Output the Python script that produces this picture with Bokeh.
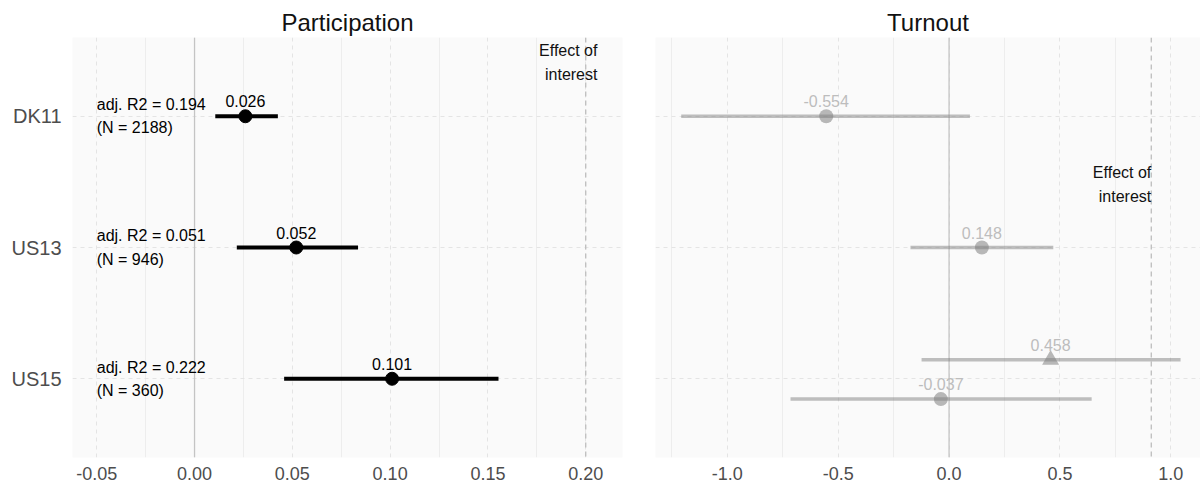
from bokeh.plotting import figure
from bokeh.layouts import row
from bokeh.models import Range1d, FixedTicker, Span, ColumnDataSource, PrintfTickFormatter
from bokeh.embed import file_html
from bokeh.resources import INLINE
from bokeh.core.properties import value

# ---------------- data ----------------
countries = ["DK11", "US13", "US15"]

part_est = [0.026, 0.052, 0.101]
part_lo = [0.0106, 0.0216, 0.0458]
part_hi = [0.0426, 0.0836, 0.1554]
adj_r2 = [0.194, 0.051, 0.222]
n_obs = [2188, 946, 360]
part_effect = 0.2

turn_country = ["DK11", "US13", "US15", "US15"]
turn_est = [-0.554, 0.148, 0.458, -0.037]
turn_lo = [-1.208, -0.174, -0.124, -0.715]
turn_hi = [0.094, 0.470, 1.044, 0.643]
turn_marker = ["circle", "circle", "triangle", "circle"]
turn_dodge = [0.0, 0.0, 0.145, -0.155]
turn_effect = 0.912

part_ticks = [-0.05, 0.0, 0.05, 0.10, 0.15, 0.20]
part_minor = [-0.025, 0.025, 0.075, 0.125, 0.175]
turn_ticks = [-1.0, -0.5, 0.0, 0.5, 1.0]
turn_minor = [-1.25, -0.75, -0.25, 0.25, 0.75]

FONT = "Liberation Sans"
ypos = {c: len(countries) - i for i, c in enumerate(countries)}


def style(p, ticks, minor, fmt):
    p.background_fill_color = "#FAFAFA"
    p.border_fill_color = "white"
    p.outline_line_color = None
    p.title.text_font = FONT
    p.title.text_font_size = "24px"
    p.title.text_font_style = "normal"
    p.title.text_color = "#111111"
    p.title.align = "center"
    p.title.standoff = 4
    tk = FixedTicker(ticks=ticks, minor_ticks=minor)
    p.xaxis.ticker = tk
    p.xgrid.ticker = tk
    p.xaxis.formatter = PrintfTickFormatter(format=fmt)
    p.xaxis.axis_line_color = None
    p.xaxis.major_tick_line_color = None
    p.xaxis.minor_tick_line_color = None
    p.xaxis.major_tick_out = 0
    p.xaxis.major_tick_in = 0
    p.xaxis.major_label_standoff = 5
    p.xaxis.major_label_text_font = FONT
    p.xaxis.major_label_text_font_size = "18px"
    p.xaxis.major_label_text_color = "#4D4D4D"
    p.xgrid.grid_line_color = "#E4E4E4"
    p.xgrid.grid_line_dash = "4 4"
    p.xgrid.minor_grid_line_color = "#EDEDED"
    yt = FixedTicker(ticks=[ypos[c] for c in countries], minor_ticks=[])
    p.yaxis.ticker = yt
    p.ygrid.ticker = yt
    p.ygrid.grid_line_color = "#E4E4E4"
    p.ygrid.grid_line_dash = "4 4"
    p.yaxis.axis_line_color = None
    p.yaxis.major_tick_line_color = None
    p.yaxis.minor_tick_line_color = None
    p.yaxis.major_tick_out = 0
    p.yaxis.major_tick_in = 0
    p.yaxis.major_label_standoff = 11
    p.yaxis.major_label_text_font = FONT
    p.yaxis.major_label_text_font_size = "20px"
    p.yaxis.major_label_text_color = "#4D4D4D"
    p.yaxis.major_label_overrides = {ypos[c]: c for c in countries}


# ---------------- Participation ----------------
W1, W2, H = 638, 562, 486
p1 = figure(width=W1, height=H, title="Participation", output_backend="svg",
            toolbar_location=None, x_range=Range1d(-0.0624, 0.2188),
            y_range=Range1d(0.4, 3.6), min_border_left=72, min_border_right=16,
            min_border_top=37, min_border_bottom=29)
style(p1, part_ticks, part_minor, "%.2f")

p1.add_layout(Span(location=0, dimension="height", line_color="#C4C4C4",
                   line_width=1.3, level="underlay"))
p1.add_layout(Span(location=part_effect, dimension="height", line_color="#BDBDBD",
                   line_width=1.3, line_dash="5 4", level="underlay"))

src1 = ColumnDataSource(dict(
    y=[ypos[c] for c in countries], est=part_est, lo=part_lo, hi=part_hi,
    lab=[f"{v:.3f}" for v in part_est],
    info=[f"adj. R2 = {r:.3f}\n(N = {n})" for r, n in zip(adj_r2, n_obs)],
    xl=[part_ticks[0]] * len(countries),
))
p1.segment(x0="lo", x1="hi", y0="y", y1="y", source=src1, line_color="black",
           line_width=4)
p1.scatter(x="est", y="y", source=src1, marker="circle", size=13,
           fill_color="black", line_color="black")
p1.text(x="est", y="y", text="lab", source=src1, text_align="center",
        text_baseline="alphabetic", y_offset=-15, text_font=value(FONT),
        text_font_size="16px", text_color="black")
p1.text(x="xl", y="y", text="info", source=src1, text_align="left",
        text_baseline="middle", text_font=value(FONT), text_font_size="16px",
        text_color="black", text_line_height=1.38)
p1.text(x=[part_effect + 0.006], y=[3.41], text=["Effect of\ninterest"],
        text_align="right", text_baseline="middle", text_font=value(FONT),
        text_font_size="16px", text_color="#111111", text_line_height=1.4)

# ---------------- Turnout ----------------
p2 = figure(width=W2, height=H, title="Turnout", output_backend="svg",
            toolbar_location=None, x_range=Range1d(-1.324, 1.134),
            y_range=Range1d(0.4, 3.6), min_border_left=17, min_border_right=0,
            min_border_top=37, min_border_bottom=29)
style(p2, turn_ticks, turn_minor, "%.1f")
p2.yaxis.visible = False
p2.title.offset = 3

p2.add_layout(Span(location=0, dimension="height", line_color="#C4C4C4",
                   line_width=1.3, level="underlay"))
p2.add_layout(Span(location=turn_effect, dimension="height", line_color="#BDBDBD",
                   line_width=1.3, line_dash="5 4", level="underlay"))

src2 = ColumnDataSource(dict(
    y=[ypos[c] + d for c, d in zip(turn_country, turn_dodge)],
    est=turn_est, lo=turn_lo, hi=turn_hi, marker=turn_marker,
    size=[17 if m == "triangle" else 14 for m in turn_marker],
    lab=[f"{v:.3f}" for v in turn_est],
))
p2.segment(x0="lo", x1="hi", y0="y", y1="y", source=src2, line_color="#808080",
           line_alpha=0.5, line_width=3.5)
p2.scatter(x="est", y="y", source=src2, marker="marker", size="size",
           fill_color="#808080", fill_alpha=0.55, line_color=None)
p2.text(x="est", y="y", text="lab", source=src2, text_align="center",
        text_baseline="alphabetic", y_offset=-15, text_font=value(FONT),
        text_font_size="16px", text_color="#BDBDBD")
p2.text(x=[turn_effect], y=[2.48], text=["Effect of\ninterest"],
        text_align="right", text_baseline="middle", text_font=value(FONT),
        text_font_size="16px", text_color="#111111", text_line_height=1.4)

layout = row(p1, p2, spacing=0)
open("out.html", "w").write(file_html(layout, INLINE))
